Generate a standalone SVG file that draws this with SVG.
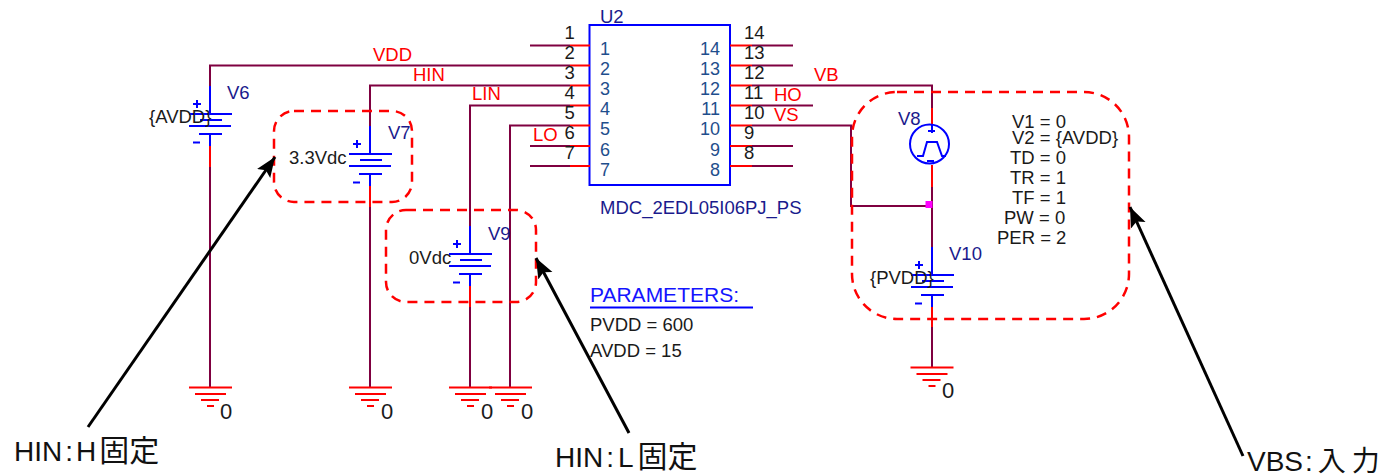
<svg xmlns="http://www.w3.org/2000/svg" width="1397" height="475" viewBox="0 0 1397 475">
<style>
text{font-family:"Liberation Sans","Noto Sans CJK JP",sans-serif;font-size:18.500px;fill:#1a1a1a}
.w{fill:none;stroke:#7f0040;stroke-width:2}
.r{fill:none;stroke:#f00;stroke-width:2}
.b{fill:none;stroke:#00f;stroke-width:2}
.d{fill:none;stroke:#f00;stroke-width:2.5;stroke-dasharray:10 7}
.a{stroke:#000;stroke-width:3;fill:none}
text.red{fill:#f00}
text.nav{fill:#1a1a8c}
text.pin{fill:#1f4e8c;font-size:18px}
text.big{font-size:22px}
text.param{font-size:21px;fill:#1414ff}
text.call{font-size:28px;fill:#111}
tspan.k{font-size:30px}
</style>
<defs>
<g id="bat"><path class="b" d="M0 0V28M-21 28H22M-10 34H12M-21 40H21M-11 48H12M0 48V60M-17 18h8M-13 14v8M-17 56.500h7"/></g>
<g id="gnd"><path class="r" d="M-21 0H22M-15 6.500H16M-9 12.500H9M-3 18.500H4"/></g>
<marker id="ah" markerUnits="userSpaceOnUse" markerWidth="24" markerHeight="20" refX="20" refY="8" orient="auto"><path d="M0 0L20 8L0 16L4 8Z" fill="#000"/></marker>
</defs>
<g id="connectors">
<path class="w" d="M530 45.500H570M530 146H570M530 166H570M752 45.500H793M752 65.500H793M752 146H793M752 166H793M752 105.500H813"/>
<path class="w" d="M570 65.500H210V86M210 167V387"/>
<path class="w" d="M570 85.500H370V126M370 207V387"/>
<path class="w" d="M570 105.500H470V226M470 307V387"/>
<path class="w" d="M570 125.500H510V387"/>
<path class="w" d="M752 85.500H932V108M932 187V247M932 327V367"/>
<path class="w" d="M752 125.500H851V206H930"/>
</g>
<g id="U2">
<rect x="589.500" y="25" width="140.500" height="160" fill="#fff" stroke="#00f" stroke-width="2"/>
<path class="r" d="M570 45.500H590M570 65.500H590M570 85.500H590M570 105.500H590M570 125.500H590M570 146H590M570 166H590M730 45.500H752M730 65.500H752M730 85.500H752M730 105.500H752M730 125.500H752M730 146H752M730 166H752"/>
<text x="600" y="23" class="nav">U2</text>
<text x="564.500" y="39">1</text><text x="564.500" y="59">2</text><text x="564.500" y="79">3</text><text x="564.500" y="99">4</text><text x="564.500" y="119">5</text><text x="564.500" y="139">6</text><text x="564.500" y="159">7</text>
<text x="744" y="39">14</text><text x="744" y="59">13</text><text x="744" y="79">12</text><text x="744" y="99">11</text><text x="744" y="119">10</text><text x="744" y="139">9</text><text x="744" y="159">8</text>
<text x="600" y="55" class="pin">1</text><text x="600" y="75" class="pin">2</text><text x="600" y="95" class="pin">3</text><text x="600" y="115" class="pin">4</text><text x="600" y="135" class="pin">5</text><text x="600" y="156" class="pin">6</text><text x="600" y="176" class="pin">7</text>
<text x="720" y="55" class="pin" text-anchor="end">14</text><text x="720" y="75" class="pin" text-anchor="end">13</text><text x="720" y="95" class="pin" text-anchor="end">12</text><text x="720" y="115" class="pin" text-anchor="end">11</text><text x="720" y="135" class="pin" text-anchor="end">10</text><text x="720" y="156" class="pin" text-anchor="end">9</text><text x="720" y="176" class="pin" text-anchor="end">8</text>
<text x="600" y="214" class="nav">MDC_2EDL05I06PJ_PS</text>
</g>
<g id="net-labels">
<text x="373" y="61" class="red">VDD</text><text x="413" y="81" class="red">HIN</text><text x="472" y="100" class="red">LIN</text><text x="533" y="141" class="red">LO</text>
<text x="814" y="81" class="red">VB</text><text x="774" y="101" class="red">HO</text><text x="774" y="121" class="red">VS</text>
</g>
<g id="V6"><use href="#bat" x="210" y="86"/><path class="r" d="M210 146V167"/><text x="227" y="99" class="nav">V6</text><text x="149" y="123">{AVDD}</text></g>
<g id="V7"><use href="#bat" x="370" y="126"/><path class="r" d="M370 186V207"/><text x="388" y="139" class="nav">V7</text><text x="289" y="164">3.3Vdc</text></g>
<g id="V9"><use href="#bat" x="470" y="226"/><path class="r" d="M470 286V307"/><text x="488" y="240" class="nav">V9</text><text x="409" y="264">0Vdc</text></g>
<g id="V10"><use href="#bat" x="932" y="247"/><path class="r" d="M932 307V327"/><text x="949" y="260" class="nav">V10</text><text x="870" y="284">{PVDD}</text></g>
<g id="V8">
<path class="r" d="M932 108V125M932 165V187"/>
<circle cx="929.500" cy="144" r="19.500" fill="none" stroke="#00f" stroke-width="2"/>
<path class="b" d="M917 156H923L927 142H937L942 156H946M932 125V133M928 131H935M927 161H934"/>
<text x="898" y="125" class="nav">V8</text>
<text x="1012" y="128">V1 = 0</text><text x="1012" y="144">V2 = {AVDD}</text><text x="1010" y="164">TD = 0</text><text x="1010" y="184">TR = 1</text><text x="1012" y="204">TF = 1</text><text x="1004" y="224">PW = 0</text><text x="997" y="244">PER = 2</text>
</g>
<g id="junction"><rect x="925.500" y="201" width="7" height="7" fill="#f0f"/></g>
<g id="grounds">
<use href="#gnd" x="210" y="387.500"/><use href="#gnd" x="370" y="387.500"/><use href="#gnd" x="470" y="387.500"/><use href="#gnd" x="510" y="387.500"/><use href="#gnd" x="931.500" y="367.500"/>
<text x="220" y="419" class="big">0</text><text x="381" y="419" class="big">0</text><text x="481" y="419" class="big">0</text><text x="521" y="419" class="big">0</text><text x="942" y="398" class="big">0</text>
</g>
<g id="parameters">
<text x="590" y="302" class="param">PARAMETERS:</text>
<path d="M590 307.500H753" stroke="#00f" stroke-width="2"/>
<text x="590" y="331">PVDD = 600</text><text x="590" y="357">AVDD = 15</text>
</g>
<g id="highlights">
<rect class="d" x="274" y="111" width="138" height="91" rx="20"/>
<rect class="d" x="386" y="210" width="150" height="92" rx="20"/>
<rect class="d" x="852" y="92" width="277" height="227" rx="45"/>
</g>
<g id="callouts">
<path class="a" marker-end="url(#ah)" d="M88 427L275 157"/>
<path class="a" marker-end="url(#ah)" d="M629 433L536 258"/>
<path class="a" marker-end="url(#ah)" d="M1243 456L1130 207"/>
<text x="14" y="461" class="call">HIN<tspan dx="3">:</tspan><tspan dx="3">H</tspan><tspan class="k" dx="3">固</tspan><tspan class="k">定</tspan></text>
<text x="555" y="467" class="call">HIN<tspan dx="3">:</tspan><tspan dx="4">L</tspan><tspan class="k" dx="4">固</tspan><tspan class="k">定</tspan></text>
<text x="1247" y="471" class="call">VBS<tspan dx="2">:</tspan><tspan dx="5">入</tspan><tspan dx="6">力</tspan></text>
</g>
</svg>
